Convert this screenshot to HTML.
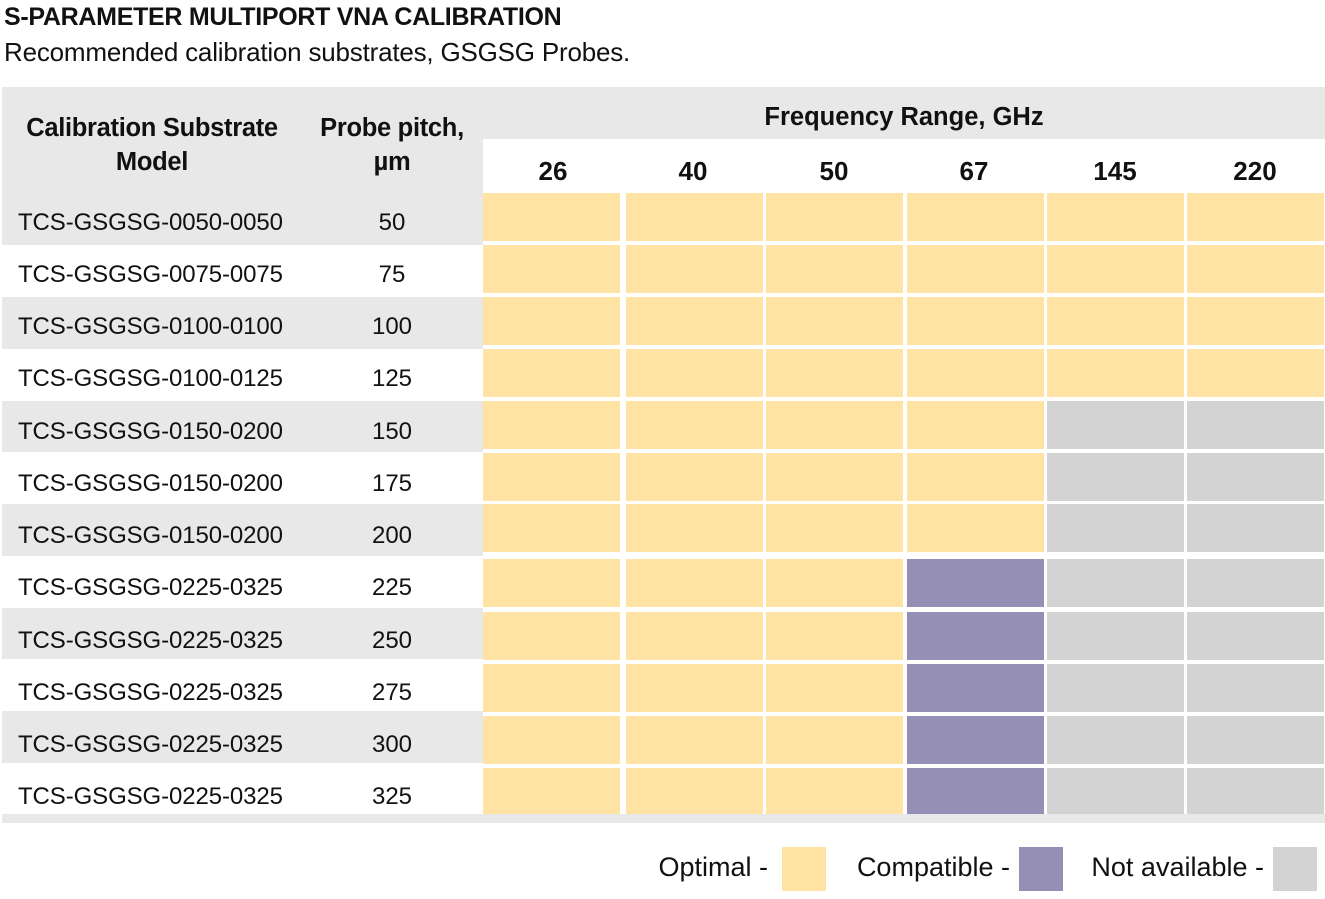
<!DOCTYPE html>
<html><head><meta charset="utf-8"><style>
body{margin:0;width:1325px;height:899px;background:#fff;position:relative;overflow:hidden;font-family:"Liberation Sans",sans-serif;color:#111}
div{position:absolute;box-sizing:border-box}
.t{white-space:nowrap}
.c{height:48px;width:136.5px}
.o{background:#fee3a5}.p{background:#958fb6}.n{background:#d3d3d3}
.m{left:18px;font-size:24px;width:290px;letter-spacing:-0.1px}
.q{left:340px;width:104px;text-align:center;font-size:24px}
.h{font-weight:bold;font-size:26px;text-align:center;width:140px;top:156px}
</style></head><body>
<div class="t" style="left:4px;top:3px;font-size:25px;font-weight:bold;letter-spacing:-0.3px">S-PARAMETER MULTIPORT VNA CALIBRATION</div>
<div class="t" style="left:4px;top:37px;font-size:26px;letter-spacing:-0.2px">Recommended calibration substrates, GSGSG Probes.</div>
<div style="left:2px;top:87px;width:1323px;height:736px;background:#e8e8e8"></div>
<div style="left:483px;top:139px;width:842px;height:54px;background:#fff"></div>
<div class="t" style="left:2px;top:111px;width:300px;text-align:center;font-weight:bold;font-size:25.5px;line-height:34px;letter-spacing:-0.3px">Calibration Substrate<br>Model</div>
<div class="t" style="left:302px;top:111px;width:180px;text-align:center;font-weight:bold;font-size:25.5px;line-height:34px;letter-spacing:-0.3px">Probe pitch,<br>µm</div>
<div class="t" style="left:483px;top:103px;width:842px;text-align:center;font-weight:bold;font-size:25.5px">Frequency Range, GHz</div>
<div class="t h" style="left:483px">26</div><div class="t h" style="left:623px">40</div><div class="t h" style="left:764px">50</div><div class="t h" style="left:904px">67</div><div class="t h" style="left:1045px">145</div><div class="t h" style="left:1185px">220</div>
<div style="left:2px;top:245px;width:481px;height:52px;background:#fff"></div>
<div style="left:2px;top:349px;width:481px;height:52px;background:#fff"></div>
<div style="left:2px;top:452px;width:481px;height:52px;background:#fff"></div>
<div style="left:2px;top:556px;width:481px;height:52px;background:#fff"></div>
<div style="left:2px;top:659px;width:481px;height:52px;background:#fff"></div>
<div style="left:2px;top:763px;width:481px;height:51px;background:#fff"></div>
<div style="left:483px;top:193px;width:842px;height:621px;background:#fff"></div>
<div class="c o" style="left:483px;top:193px"></div><div class="c o" style="left:626px;top:193px"></div><div class="c o" style="left:766px;top:193px"></div><div class="c o" style="left:907px;top:193px"></div><div class="c o" style="left:1047px;top:193px"></div><div class="c o" style="left:1187px;top:193px"></div>
<div class="c o" style="left:483px;top:245px"></div><div class="c o" style="left:626px;top:245px"></div><div class="c o" style="left:766px;top:245px"></div><div class="c o" style="left:907px;top:245px"></div><div class="c o" style="left:1047px;top:245px"></div><div class="c o" style="left:1187px;top:245px"></div>
<div class="c o" style="left:483px;top:297px"></div><div class="c o" style="left:626px;top:297px"></div><div class="c o" style="left:766px;top:297px"></div><div class="c o" style="left:907px;top:297px"></div><div class="c o" style="left:1047px;top:297px"></div><div class="c o" style="left:1187px;top:297px"></div>
<div class="c o" style="left:483px;top:349px"></div><div class="c o" style="left:626px;top:349px"></div><div class="c o" style="left:766px;top:349px"></div><div class="c o" style="left:907px;top:349px"></div><div class="c o" style="left:1047px;top:349px"></div><div class="c o" style="left:1187px;top:349px"></div>
<div class="c o" style="left:483px;top:401px"></div><div class="c o" style="left:626px;top:401px"></div><div class="c o" style="left:766px;top:401px"></div><div class="c o" style="left:907px;top:401px"></div><div class="c n" style="left:1047px;top:401px"></div><div class="c n" style="left:1187px;top:401px"></div>
<div class="c o" style="left:483px;top:453px"></div><div class="c o" style="left:626px;top:453px"></div><div class="c o" style="left:766px;top:453px"></div><div class="c o" style="left:907px;top:453px"></div><div class="c n" style="left:1047px;top:453px"></div><div class="c n" style="left:1187px;top:453px"></div>
<div class="c o" style="left:483px;top:504px"></div><div class="c o" style="left:626px;top:504px"></div><div class="c o" style="left:766px;top:504px"></div><div class="c o" style="left:907px;top:504px"></div><div class="c n" style="left:1047px;top:504px"></div><div class="c n" style="left:1187px;top:504px"></div>
<div class="c o" style="left:483px;top:559px"></div><div class="c o" style="left:626px;top:559px"></div><div class="c o" style="left:766px;top:559px"></div><div class="c p" style="left:907px;top:559px"></div><div class="c n" style="left:1047px;top:559px"></div><div class="c n" style="left:1187px;top:559px"></div>
<div class="c o" style="left:483px;top:612px"></div><div class="c o" style="left:626px;top:612px"></div><div class="c o" style="left:766px;top:612px"></div><div class="c p" style="left:907px;top:612px"></div><div class="c n" style="left:1047px;top:612px"></div><div class="c n" style="left:1187px;top:612px"></div>
<div class="c o" style="left:483px;top:664px"></div><div class="c o" style="left:626px;top:664px"></div><div class="c o" style="left:766px;top:664px"></div><div class="c p" style="left:907px;top:664px"></div><div class="c n" style="left:1047px;top:664px"></div><div class="c n" style="left:1187px;top:664px"></div>
<div class="c o" style="left:483px;top:716px"></div><div class="c o" style="left:626px;top:716px"></div><div class="c o" style="left:766px;top:716px"></div><div class="c p" style="left:907px;top:716px"></div><div class="c n" style="left:1047px;top:716px"></div><div class="c n" style="left:1187px;top:716px"></div>
<div class="c o" style="left:483px;top:768px;height:46px"></div><div class="c o" style="left:626px;top:768px;height:46px"></div><div class="c o" style="left:766px;top:768px;height:46px"></div><div class="c p" style="left:907px;top:768px;height:46px"></div><div class="c n" style="left:1047px;top:768px;height:46px"></div><div class="c n" style="left:1187px;top:768px;height:46px"></div>
<div class="t m" style="top:209px">TCS-GSGSG-0050-0050</div><div class="t q" style="top:209px">50</div>
<div class="t m" style="top:261px">TCS-GSGSG-0075-0075</div><div class="t q" style="top:261px">75</div>
<div class="t m" style="top:313px">TCS-GSGSG-0100-0100</div><div class="t q" style="top:313px">100</div>
<div class="t m" style="top:365px">TCS-GSGSG-0100-0125</div><div class="t q" style="top:365px">125</div>
<div class="t m" style="top:418px">TCS-GSGSG-0150-0200</div><div class="t q" style="top:418px">150</div>
<div class="t m" style="top:470px">TCS-GSGSG-0150-0200</div><div class="t q" style="top:470px">175</div>
<div class="t m" style="top:522px">TCS-GSGSG-0150-0200</div><div class="t q" style="top:522px">200</div>
<div class="t m" style="top:574px">TCS-GSGSG-0225-0325</div><div class="t q" style="top:574px">225</div>
<div class="t m" style="top:627px">TCS-GSGSG-0225-0325</div><div class="t q" style="top:627px">250</div>
<div class="t m" style="top:679px">TCS-GSGSG-0225-0325</div><div class="t q" style="top:679px">275</div>
<div class="t m" style="top:731px">TCS-GSGSG-0225-0325</div><div class="t q" style="top:731px">300</div>
<div class="t m" style="top:783px">TCS-GSGSG-0225-0325</div><div class="t q" style="top:783px">325</div>
<div class="t" style="left:560px;top:852px;width:208px;text-align:right;font-size:27px">Optimal -</div>
<div class="o" style="left:782px;top:847px;width:44px;height:44px"></div>
<div class="t" style="left:780px;top:852px;width:230px;text-align:right;font-size:27px">Compatible -</div>
<div class="p" style="left:1019px;top:847px;width:44px;height:44px"></div>
<div class="t" style="left:1030px;top:852px;width:234px;text-align:right;font-size:27px">Not available -</div>
<div class="n" style="left:1273px;top:847px;width:44px;height:44px"></div>
</body></html>
